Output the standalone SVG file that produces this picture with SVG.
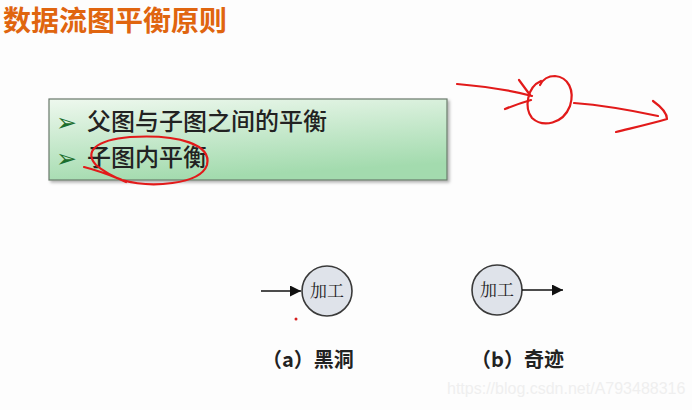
<svg xmlns="http://www.w3.org/2000/svg" width="692" height="410" viewBox="0 0 692 410">
<defs>
<linearGradient id="gbox" x1="0" y1="0" x2="0.3" y2="1">
<stop offset="0" stop-color="#eef8ee"/>
<stop offset="1" stop-color="#a3dbae"/>
</linearGradient>
<marker id="arr" viewBox="0 0 10 10" refX="10" refY="5" markerWidth="11" markerHeight="11" markerUnits="userSpaceOnUse" orient="auto">
<path d="M0,0 L10,5 L0,10 z" fill="#111"/>
</marker>
<filter id="sh" x="-5%" y="-5%" width="110%" height="120%">
<feDropShadow dx="2" dy="2" stdDeviation="1.5" flood-color="#000" flood-opacity="0.3"/>
</filter>
</defs>
<style>
.cjk{font-family:"Noto Sans CJK SC","Noto Sans",sans-serif}
.title{font-size:28px;font-weight:bold;fill:#e0650f}
.item{font-size:24px;font-weight:500;fill:#222}
.bul{font-family:"DejaVu Sans",sans-serif;font-size:25px;fill:#1b6e2c}
.proc circle{fill:#dfe3ea;stroke:#3a3a3a;stroke-width:1.6}
.ptxt{font-family:"Noto Serif CJK SC","Noto Sans CJK SC",serif;font-size:17px;fill:#222}
.cap{font-size:20px;font-weight:bold;fill:#222}
.conn{stroke:#111;stroke-width:1.6;fill:none}
.red{stroke:#e21a1a;stroke-width:2.2;fill:none;stroke-linecap:round;stroke-linejoin:round}
</style>
<rect width="692" height="410" fill="#fdfdfd"/>
<text class="cjk title" x="3" y="31">数据流图平衡原则</text>

<g id="box">
<rect x="49" y="99" width="398" height="81" fill="url(#gbox)" stroke="#6a7a6c" stroke-width="1.2" filter="url(#sh)"/>
<text class="bul" x="56" y="131">➢</text>
<text class="cjk item" x="87" y="130">父图与子图之间的平衡</text>
<text class="bul" x="56" y="167">➢</text>
<text class="cjk item" x="87" y="166">子图内平衡</text>
</g>

<g id="proc-a" class="proc">
<circle cx="327" cy="291" r="25"/>
<text class="ptxt" x="327" y="297" text-anchor="middle">加工</text>
</g>
<g id="proc-b" class="proc">
<circle cx="497" cy="290" r="25"/>
<text class="ptxt" x="497" y="296" text-anchor="middle">加工</text>
</g>

<g id="connectors">
<line class="conn" x1="261" y1="291" x2="301" y2="291" marker-end="url(#arr)"/>
<line class="conn" x1="522" y1="290" x2="563" y2="290" marker-end="url(#arr)"/>
</g>

<text class="cjk cap" x="262" y="367">（a）黑洞</text>
<text class="cjk cap" x="471" y="367">（b）奇迹</text>

<g id="annotations">
<path class="red" d="M84,167 C100,171 112,176 122,180 C150,188 200,185 207,165 C212,145 180,134 130,137 C95,140 84,152 96,165 C104,172 114,177 126,182"/>
<path class="red" d="M457,84 C480,86 510,90 532,96"/>
<path class="red" d="M519,80 L530,95"/>
<path class="red" d="M505,109 C515,105 524,102 531,100"/>
<path class="red" d="M541,81 C527,87 524,108 532,118 C543,128 563,124 570,106 C575,90 568,77 555,76 C548,76 543,79 540,85"/>
<path class="red" d="M574,103 C600,105 630,110 658,116"/>
<path class="red" d="M653,101 C660,106 667,113 667,119 C650,124 632,128 616,132"/>
<circle cx="296" cy="319" r="1.5" fill="#d62020"/>
</g>

<text x="447" y="394" font-family="Liberation Sans, Arial, sans-serif" font-size="16" fill="#efefef">https://blog.csdn.net/A793488316</text>
</svg>
